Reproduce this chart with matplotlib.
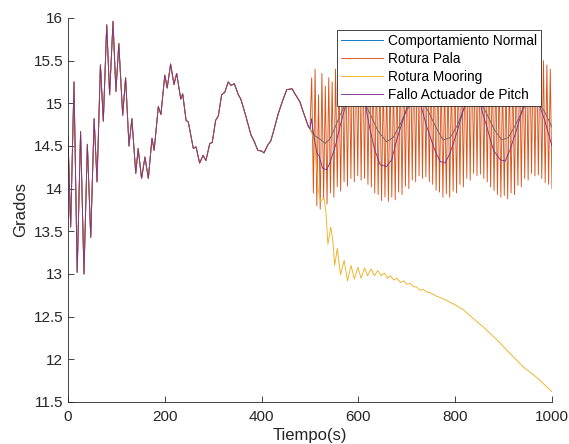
import numpy as np
import matplotlib
matplotlib.use("Agg")
import matplotlib.pyplot as plt
from matplotlib.ticker import FormatStrFormatter

# common part (0-500 s), all four cases overlap here
t_base = [0, 5.5, 12.4, 19, 26, 33, 40, 47, 54, 60, 67, 73, 80, 86, 93, 99, 105, 113,
          119, 126, 132, 140, 145, 152, 159, 166, 173.5, 178, 186.6, 192, 200, 205, 212,
          219, 224.5, 233, 237, 244, 248.6, 259, 264.5, 272, 279, 285, 293, 298, 305,
          310.5, 317.5, 324, 331, 336.8, 343.6, 352, 357, 367, 378, 385, 392, 400, 405,
          412.6, 419, 426, 434.5, 442.8, 452, 463, 469, 479, 486, 496.5, 500]
v_base = [14.6, 13.55, 15.25, 13.02, 14.67, 13.0, 14.52, 13.43, 14.82, 14.08, 15.45, 14.79,
          15.92, 15.1, 15.96, 15.14, 15.7, 14.86, 15.3, 14.5, 14.82, 14.18, 14.47, 14.12,
          14.37, 14.12, 14.59, 14.45, 14.96, 14.87, 15.33, 15.18, 15.46, 15.22, 15.35, 15.05,
          15.11, 14.8, 14.78, 14.47, 14.49, 14.3, 14.39, 14.33, 14.53, 14.54, 14.8, 14.85,
          15.1, 15.13, 15.25, 15.21, 15.23, 15.1, 15.05, 14.86, 14.63, 14.55, 14.45, 14.44,
          14.42, 14.51, 14.56, 14.7, 14.88, 15.02, 15.16, 15.17, 15.11, 15.02, 14.9, 14.73, 14.7]

# Comportamiento Normal after 500 s
t_normal = [510, 521, 531, 541, 552, 562, 576, 595, 610, 624, 640, 658, 672, 686, 700, 715,
            730, 745, 760, 775, 790, 805, 817, 835, 850, 865, 880, 896, 910, 925, 940, 955,
            970, 985, 1000]
v_normal = [14.62, 14.58, 14.53, 14.58, 14.72, 14.86, 15.02, 15.08, 15.03, 14.88, 14.68,
            14.55, 14.6, 14.75, 14.92, 15.05, 15.04, 14.9, 14.72, 14.57, 14.6, 14.75, 14.93,
            15.06, 15.03, 14.88, 14.7, 14.57, 14.6, 14.75, 14.93, 15.06, 15.02, 14.9, 14.72]

# Rotura Pala after 500 s: successive maxima and minima of the fast oscillation
pala_hi = [15.3, 15.4, 15.1, 15.35, 15.2, 15.3, 15.25, 15.4, 15.35, 15.5, 15.55, 15.7,
           15.72, 15.78, 15.75, 15.72, 15.65, 15.6, 15.5, 15.42, 15.35, 15.3, 15.25, 15.28,
           15.3, 15.38, 15.45, 15.52, 15.6, 15.68, 15.72, 15.78, 15.75, 15.7, 15.64, 15.55,
           15.46, 15.4, 15.32, 15.28, 15.3, 15.33, 15.38, 15.45, 15.52, 15.62, 15.7, 15.75,
           15.78, 15.75, 15.7, 15.63, 15.55, 15.46, 15.4, 15.33, 15.3, 15.28, 15.32, 15.37,
           15.44, 15.52, 15.6, 15.68, 15.73, 15.77, 15.74, 15.68, 15.5, 15.45, 15.4]
pala_lo = [13.95, 13.8, 13.76, 13.88, 13.82, 13.95, 13.9, 14.02, 13.97, 14.08, 14.03, 14.12,
           14.08, 14.15, 14.1, 14.12, 14.05, 14.02, 13.95, 13.93, 13.86, 13.9, 13.85, 13.9,
           13.87, 13.96, 13.93, 14.03, 14.0, 14.1, 14.08, 14.15, 14.12, 14.14, 14.08, 14.05,
           13.98, 13.96, 13.9, 13.94, 13.9, 13.97, 13.95, 14.05, 14.02, 14.12, 14.1, 14.18,
           14.15, 14.17, 14.12, 14.08, 14.02, 13.98, 13.93, 13.9, 13.92, 13.88, 13.95, 13.93,
           14.04, 14.02, 14.12, 14.1, 14.18, 14.15, 14.16, 14.12, 14.07, 14.05, 14.0]

# Rotura Mooring after 500 s
t_mooring = [507, 512, 517, 522, 529, 533, 537, 543, 547, 551, 556.5, 563, 570.5, 577.5, 585,
             591.5, 599, 605.5, 613, 619, 626, 633, 640, 647, 654, 660, 666, 673, 680, 687,
             694, 700, 707, 714, 720, 727, 734, 741, 748, 762, 779, 796, 817, 837, 858, 886,
             913, 941, 968, 1000]
v_mooring = [14.6, 14.36, 13.98, 13.85, 13.89, 13.72, 13.35, 13.55, 13.4, 13.1, 13.3, 12.99,
             13.16, 12.92, 13.1, 12.94, 13.08, 12.95, 13.07, 12.98, 13.06, 12.98, 13.04, 12.98,
             13.01, 12.95, 12.98, 12.93, 12.95, 12.9, 12.92, 12.88, 12.89, 12.85, 12.85, 12.81,
             12.82, 12.79, 12.78, 12.74, 12.7, 12.65, 12.58, 12.48, 12.38, 12.23, 12.07, 11.91,
             11.79, 11.62]

# Fallo Actuador de Pitch after 500 s
t_pitch = [503, 507, 514, 519, 526, 534.5, 541, 552, 562, 572, 579, 595, 614, 624, 634, 645,
           658, 669, 679, 693, 703, 715, 727, 741, 758, 768.6, 779, 789, 803, 820, 835, 851,
           865, 879, 893, 903, 913, 927, 940, 955, 970, 985, 1000]
v_pitch = [14.82, 14.65, 14.42, 14.38, 14.24, 14.22, 14.3, 14.49, 14.73, 14.94, 15.04, 15.15,
           15.0, 14.69, 14.45, 14.28, 14.26, 14.34, 14.57, 14.82, 15.0, 15.15, 15.02, 14.73,
           14.45, 14.32, 14.3, 14.41, 14.65, 14.98, 15.12, 15.0, 14.73, 14.45, 14.34, 14.32,
           14.45, 14.69, 14.95, 15.12, 15.05, 14.8, 14.5]

labels = ['Comportamiento Normal', 'Rotura Pala', 'Rotura Mooring', 'Fallo Actuador de Pitch']
colors = ['#0072BD', '#D95319', '#EDB120', '#7E2F8E']

# build the full series
pala_vals = [v_base[-1]]
for hi, lo in zip(pala_hi, pala_lo):
    pala_vals += [hi, lo]
t_pala = list(np.linspace(500, 1000, len(pala_vals)))

series = [
    (t_base + t_normal, v_base + v_normal),
    (t_base + t_pala[1:], v_base + pala_vals[1:]),
    (t_base + t_mooring, v_base + v_mooring),
    (t_base + t_pitch, v_base + v_pitch),
]

plt.rcParams['font.family'] = ['Liberation Sans', 'DejaVu Sans']

fig = plt.figure(figsize=(5.69, 4.44), dpi=100)
ax = fig.add_axes([0.1195, 0.0946, 0.8506, 0.8649])

for (t, v), lab, col in zip(series, labels, colors):
    ax.plot(t, v, color=col, lw=0.65, label=lab)

ax.set_xlim(0, 1000)
ax.set_ylim(11.5, 16)
ax.set_xticks(np.arange(0, 1001, 200))
ax.set_yticks(np.arange(11.5, 16.01, 0.5))
ax.yaxis.set_major_formatter(FormatStrFormatter('%g'))
ax.tick_params(direction='in', length=4, width=0.6, labelsize=11, colors='#262626',
               labelcolor='#262626')
ax.tick_params(axis='x', pad=6)
for side in ['top', 'right']:
    ax.spines[side].set_visible(False)
for side in ['left', 'bottom']:
    ax.spines[side].set_linewidth(0.6)
    ax.spines[side].set_color('#262626')

ax.set_xlabel('Tiempo(s)', fontsize=12, color='#262626', labelpad=3)
ax.set_ylabel('Grados', fontsize=12, color='#262626', labelpad=4)

leg = ax.legend(loc='upper right', bbox_to_anchor=(0.977, 0.969), borderaxespad=0,
                fontsize=9.8, frameon=True, fancybox=False, handlelength=3.1,
                handletextpad=0.35, labelspacing=0.3, borderpad=0.3)
leg.get_frame().set_edgecolor('#262626')
leg.get_frame().set_linewidth(0.6)
leg.get_frame().set_alpha(1)

fig.savefig('out.png', dpi=100)
